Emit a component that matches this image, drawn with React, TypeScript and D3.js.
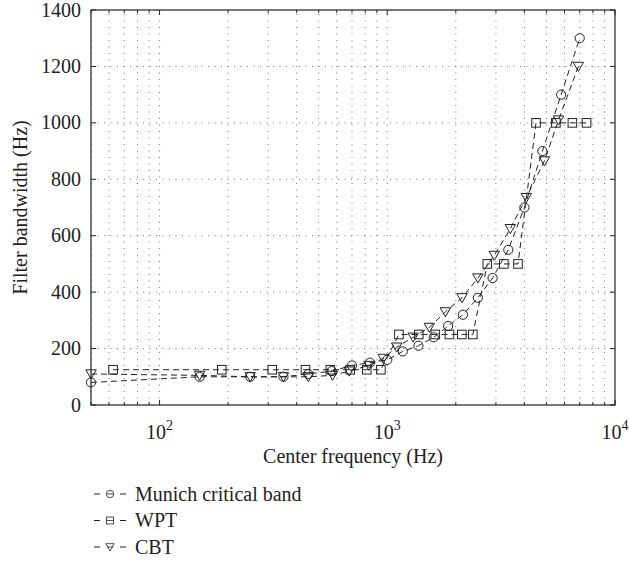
import React from "react";
import * as d3 from "d3";

const freqMunich = [50, 150, 250, 350, 450, 570, 700, 840, 1000, 1170, 1370, 1600, 1850, 2150, 2500, 2900, 3400, 4000, 4800, 5800, 7000];
const bwMunich = [80, 100, 100, 100, 110, 120, 140, 150, 160, 190, 210, 240, 280, 320, 380, 450, 550, 700, 900, 1100, 1300];

const freqWPT = [62.5, 187.5, 312.5, 437.5, 562.5, 687.5, 812.5, 937.5, 1125, 1375, 1625, 1875, 2125, 2375, 2750, 3250, 3750, 4500, 5500, 6500, 7500];
const bwWPT = [125, 125, 125, 125, 125, 125, 125, 125, 250, 250, 250, 250, 250, 250, 500, 500, 500, 1000, 1000, 1000, 1000];

const freqCBT = [50, 150, 250, 350, 450, 575, 680, 830, 960, 1100, 1300, 1530, 1800, 2130, 2500, 2950, 3470, 4080, 4900, 5650, 6900];
const bwCBT = [110, 105, 100, 100, 100, 105, 120, 140, 165, 205, 240, 275, 330, 380, 450, 530, 625, 735, 865, 1010, 1200];

const yTicks = [0, 200, 400, 600, 800, 1000, 1200, 1400];
const xMajor = [100, 1000, 10000];
const seriesNames = ["Munich critical band", "WPT", "CBT"];

const W = 629;
const H = 569;
const m = { left: 91, right: 615, top: 10, bottom: 405 };
const font = "'Liberation Serif', 'DejaVu Serif', serif";
const fs = 20;

function Marker({ kind, x, y }: { kind: string; x: number; y: number }) {
  if (kind === "o") return <circle cx={x} cy={y} r={4.6} fill="none" stroke="#222" strokeWidth={1} />;
  if (kind === "s") return <rect x={x - 4.3} y={y - 4.3} width={8.6} height={8.6} fill="none" stroke="#222" strokeWidth={1} />;
  const s = 5.2;
  return <path d={`M${x - s},${y - s * 0.8}L${x + s},${y - s * 0.8}L${x},${y + s * 0.95}Z`} fill="none" stroke="#222" strokeWidth={1} />;
}

export default function App() {
  const x = d3.scaleLog().domain([50, 10000]).range([m.left, m.right]);
  const y = d3.scaleLinear().domain([0, 1400]).range([m.bottom, m.top]);

  const minor: number[] = [];
  for (const dec of [10, 100, 1000]) for (let k = 1; k <= 9; k++) {
    const v = dec * k;
    if (v >= 50 && v <= 10000 && !xMajor.includes(v)) minor.push(v);
  }

  const series = [
    { kind: "o", f: freqMunich, b: bwMunich },
    { kind: "s", f: freqWPT, b: bwWPT },
    { kind: "v", f: freqCBT, b: bwCBT },
  ];

  const line = d3.line<[number, number]>().x((d) => x(d[0])).y((d) => y(d[1]));
  const grid = { stroke: "#555", strokeWidth: 0.8, strokeDasharray: "1,5.5" };

  return (
    <svg width={W} height={H} style={{ position: "absolute", left: 0, top: 0, background: "#fff" }} fontFamily={font}>
      <rect width={W} height={H} fill="#fff" />
      {/* grid */}
      {[...minor, ...xMajor].filter((v) => v < 10000).map((v) => (
        <line key={"gx" + v} x1={x(v)} x2={x(v)} y1={m.bottom} y2={m.top} {...grid} />
      ))}
      {yTicks.slice(1, -1).map((v) => (
        <line key={"gy" + v} x1={m.left} x2={m.right} y1={y(v)} y2={y(v)} {...grid} />
      ))}
      {/* ticks */}
      {minor.map((v) => (
        <g key={"mt" + v} stroke="#222" strokeWidth={1}>
          <line x1={x(v)} x2={x(v)} y1={m.bottom} y2={m.bottom - 3} />
          <line x1={x(v)} x2={x(v)} y1={m.top} y2={m.top + 3} />
        </g>
      ))}
      {xMajor.map((v) => (
        <g key={"xt" + v}>
          <line x1={x(v)} x2={x(v)} y1={m.bottom} y2={m.bottom - 5} stroke="#222" />
          <line x1={x(v)} x2={x(v)} y1={m.top} y2={m.top + 5} stroke="#222" />
          <text x={x(v)} y={439} textAnchor="middle" fontSize={fs} fill="#222">
            10<tspan fontSize={14} dy={-9}>{Math.log10(v)}</tspan>
          </text>
        </g>
      ))}
      {yTicks.map((v) => (
        <g key={"yt" + v}>
          <line x1={m.left} x2={m.left + 5} y1={y(v)} y2={y(v)} stroke="#222" />
          <line x1={m.right} x2={m.right - 5} y1={y(v)} y2={y(v)} stroke="#222" />
          <text x={81} y={y(v) + 6.5} textAnchor="end" fontSize={fs} fill="#222">{v}</text>
        </g>
      ))}
      {/* series */}
      {series.map((s, i) => {
        const pts = s.f.map((f, j) => [f, s.b[j]] as [number, number]);
        return (
          <g key={"s" + i}>
            <path d={line(pts) || ""} fill="none" stroke="#222" strokeWidth={1} strokeDasharray="6,4" />
            {pts.map((p, j) => <Marker key={j} kind={s.kind} x={x(p[0])} y={y(p[1])} />)}
          </g>
        );
      })}
      <rect x={m.left} y={m.top} width={m.right - m.left} height={m.bottom - m.top} fill="none" stroke="#222" strokeWidth={1.2} />
      {/* axis labels */}
      <text x={(m.left + m.right) / 2} y={463} textAnchor="middle" fontSize={fs} fill="#222">Center frequency (Hz)</text>
      <text transform={`translate(27,${(m.top + m.bottom) / 2}) rotate(-90)`} textAnchor="middle" fontSize={fs} fill="#222">Filter bandwidth (Hz)</text>
      {/* legend */}
      {series.map((s, i) => {
        const ly = 494 + i * 26.5;
        return (
          <g key={"lg" + i}>
            <line x1={94} x2={100} y1={ly} y2={ly} stroke="#222" />
            <line x1={120} x2={126} y1={ly} y2={ly} stroke="#222" />
            <g transform={`translate(110,${ly}) scale(0.8) translate(-110,${-ly})`}>
              <Marker kind={s.kind} x={110} y={ly} />
              <line x1={106} x2={114} y1={ly} y2={ly} stroke="#222" />
            </g>
            <text x={135} y={ly + 6.5} fontSize={fs} fill="#222">{seriesNames[i]}</text>
          </g>
        );
      })}
    </svg>
  );
}
